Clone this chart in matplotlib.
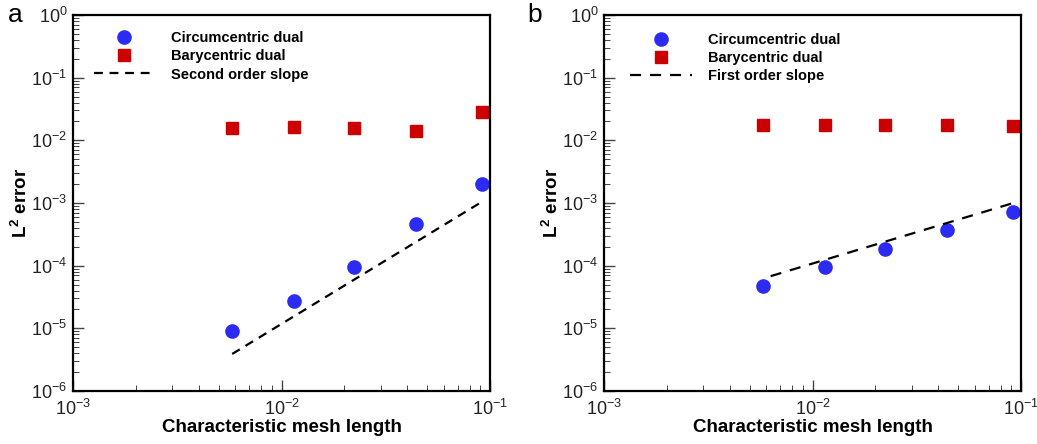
import matplotlib
matplotlib.use('Agg')
from matplotlib import pyplot as plt
from matplotlib.ticker import LogLocator, NullFormatter

plt.rcParams['font.family'] = ['Liberation Sans', 'DejaVu Sans']
plt.rcParams['mathtext.default'] = 'regular'
plt.rcParams['axes.unicode_minus'] = False

# mesh lengths (same meshes for both panels)
mesh_h = [0.0058, 0.0115, 0.0222, 0.0443, 0.0919]

# panel a
circ_a = [9.1e-6, 2.75e-5, 9.6e-5, 4.6e-4, 2.0e-3]
bary_a = [0.0156, 0.0162, 0.0156, 0.0142, 0.028]
slope_a_x = [0.0058, 0.0886]
slope_a_y = [3.9e-6, 9.8e-4]

# panel b
circ_b = [4.7e-5, 9.4e-5, 1.86e-4, 3.75e-4, 7.2e-4]
bary_b = [0.0177, 0.0177, 0.0177, 0.0177, 0.0170]
slope_b_x = [0.0063, 0.0919]
slope_b_y = [6.8e-5, 1.0e-3]

x_ticks = [1e-3, 1e-2, 1e-1]
y_ticks = [1e-6, 1e-5, 1e-4, 1e-3, 1e-2, 1e-1, 1e0]

BLUE = '#2b2bf2'
RED = '#cc0000'


def panel(ax, circ, bary, sx, sy, slope_label, letter, letter_x, dash, leg_xy):
    ax.plot(mesh_h, circ, 'o', color=BLUE, markersize=9.5, label='Circumcentric dual', clip_on=False)
    ax.plot(mesh_h, bary, 's', color=RED, markersize=8, label='Barycentric dual', clip_on=False)
    ax.plot(sx, sy, '--', color='black', lw=1.6, dashes=dash, label=slope_label)
    ax.set_xscale('log')
    ax.set_yscale('log')
    ax.set_xticks(x_ticks)
    ax.set_yticks(y_ticks)
    ax.set_xlim(1e-3, 1e-1)
    ax.set_ylim(1e-6, 1e0)
    ax.xaxis.set_minor_locator(LogLocator(base=10, subs=range(2, 10), numticks=20))
    ax.yaxis.set_minor_locator(LogLocator(base=10, subs=range(2, 10), numticks=20))
    ax.xaxis.set_minor_formatter(NullFormatter())
    ax.yaxis.set_minor_formatter(NullFormatter())
    ax.tick_params(which='both', direction='in', top=False, right=False, color='#444444')
    ax.tick_params(which='major', length=8, width=1.0, labelsize=13, labelcolor='#222222')
    ax.tick_params(which='minor', length=4, width=0.7)
    ax.tick_params(axis='x', pad=6)
    ax.tick_params(axis='y', pad=4)
    for s in ax.spines.values():
        s.set_linewidth(1.6)
    ax.set_xlabel('Characteristic mesh length', fontsize=13.5, fontweight='bold', labelpad=0)
    ax.set_ylabel('L$^2$ error', fontsize=13.5, fontweight='bold', labelpad=0)
    ax.legend(loc='upper left', bbox_to_anchor=leg_xy, frameon=False,
              prop={'size': 10.5, 'weight': 'bold'}, handlelength=4.2,
              handletextpad=1.1, labelspacing=0.3, borderpad=0, borderaxespad=0)
    ax.text(letter_x, 1.0, letter, transform=ax.transAxes, fontsize=19, va='center', ha='left')


fig = plt.figure(figsize=(10.37, 4.44), dpi=100)
ax1 = fig.add_axes([73 / 1037, 53 / 444, 417 / 1037, 376 / 444])
ax2 = fig.add_axes([604 / 1037, 53 / 444, 417 / 1037, 376 / 444])

panel(ax1, circ_a, bary_a, slope_a_x, slope_a_y, 'Second order slope', 'a', -0.155, (4, 3), (0.05, 0.958))
panel(ax2, circ_b, bary_b, slope_b_x, slope_b_y, 'First order slope', 'b', -0.185, (5, 4), (0.063, 0.953))

fig.savefig('out.png', dpi=100)
